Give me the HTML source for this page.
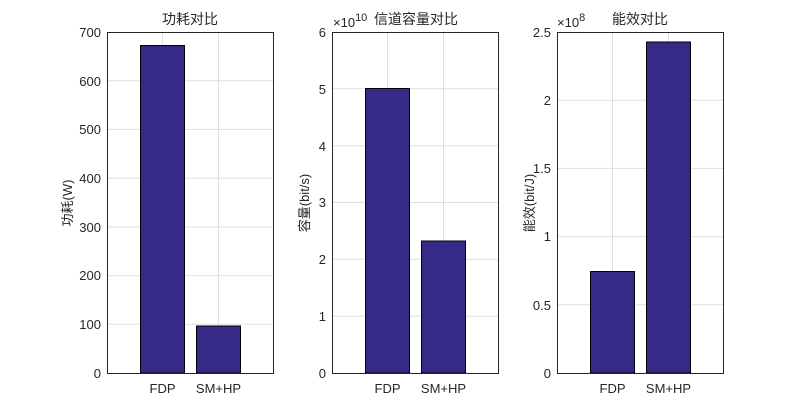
<!DOCTYPE html><html><head><meta charset="utf-8"><style>body{margin:0;background:#fff}svg{display:block}text{font-family:"Liberation Sans","Noto Sans CJK SC",sans-serif;fill:#262626;font-size:13px}</style></head><body>
<svg width="799" height="420" viewBox="0 0 799 420">
<g stroke="#dfdfdf" stroke-width="1">
<line x1="162.5" y1="32" x2="162.5" y2="373"/><line x1="218.5" y1="32" x2="218.5" y2="373"/>
<line x1="107" y1="324.3" x2="273" y2="324.3"/><line x1="107" y1="275.6" x2="273" y2="275.6"/><line x1="107" y1="226.9" x2="273" y2="226.9"/><line x1="107" y1="178.1" x2="273" y2="178.1"/><line x1="107" y1="129.4" x2="273" y2="129.4"/><line x1="107" y1="80.7" x2="273" y2="80.7"/>
<line x1="387.5" y1="32" x2="387.5" y2="373"/><line x1="443.5" y1="32" x2="443.5" y2="373"/>
<line x1="332" y1="316.2" x2="498" y2="316.2"/><line x1="332" y1="259.3" x2="498" y2="259.3"/><line x1="332" y1="202.5" x2="498" y2="202.5"/><line x1="332" y1="145.7" x2="498" y2="145.7"/><line x1="332" y1="88.8" x2="498" y2="88.8"/>
<line x1="612.5" y1="32" x2="612.5" y2="373"/><line x1="668.5" y1="32" x2="668.5" y2="373"/>
<line x1="557" y1="304.8" x2="723" y2="304.8"/><line x1="557" y1="236.6" x2="723" y2="236.6"/><line x1="557" y1="168.4" x2="723" y2="168.4"/><line x1="557" y1="100.2" x2="723" y2="100.2"/>
</g>
<g fill="#352a87" stroke="#000" stroke-width="1">
<rect x="140.5" y="45.5" width="44" height="327.5"/><rect x="196.5" y="326" width="44" height="47"/>
<rect x="365.5" y="88.5" width="44" height="284.5"/><rect x="421.5" y="241" width="44" height="132"/>
<rect x="590.5" y="271.5" width="44" height="101.5"/><rect x="646.5" y="42" width="44" height="331"/>
</g>
<g fill="none" stroke="#262626" stroke-width="1">
<rect x="107.5" y="32.5" width="166" height="341"/><rect x="332.5" y="32.5" width="166" height="341"/><rect x="557.5" y="32.5" width="166" height="341"/>
</g>
<g text-anchor="end">
<text x="101" y="378">0</text><text x="101" y="329">100</text><text x="101" y="280">200</text><text x="101" y="232">300</text><text x="101" y="183">400</text><text x="101" y="134">500</text><text x="101" y="86">600</text><text x="101" y="37">700</text>
<text x="326" y="378">0</text><text x="326" y="321">1</text><text x="326" y="264">2</text><text x="326" y="207">3</text><text x="326" y="151">4</text><text x="326" y="94">5</text><text x="326" y="37">6</text>
<text x="551" y="378">0</text><text x="551" y="310">0.5</text><text x="551" y="241">1</text><text x="551" y="173">1.5</text><text x="551" y="105">2</text><text x="551" y="37">2.5</text>
</g>
<g text-anchor="middle">
<text x="162.5" y="393">FDP</text><text x="218.5" y="393">SM+HP</text>
<text x="387.5" y="393">FDP</text><text x="443.5" y="393">SM+HP</text>
<text x="612.5" y="393">FDP</text><text x="668.5" y="393">SM+HP</text>
<text x="190" y="24" style="font-size:14px">功耗对比</text>
<text x="640" y="24" style="font-size:14px">能效对比</text>
<text transform="translate(72,203) rotate(-90)">功耗(W)</text>
<text transform="translate(309,203) rotate(-90)">容量(bit/s)</text>
<text transform="translate(534,203) rotate(-90)">能效(bit/J)</text>
</g>
<text x="333" y="27">×10<tspan dy="-6" style="font-size:11px">10</tspan></text>
<text x="374" y="24" style="font-size:14px">信道容量对比</text>
<text x="557" y="27">×10<tspan dy="-6" style="font-size:11px">8</tspan></text>
</svg></body></html>
